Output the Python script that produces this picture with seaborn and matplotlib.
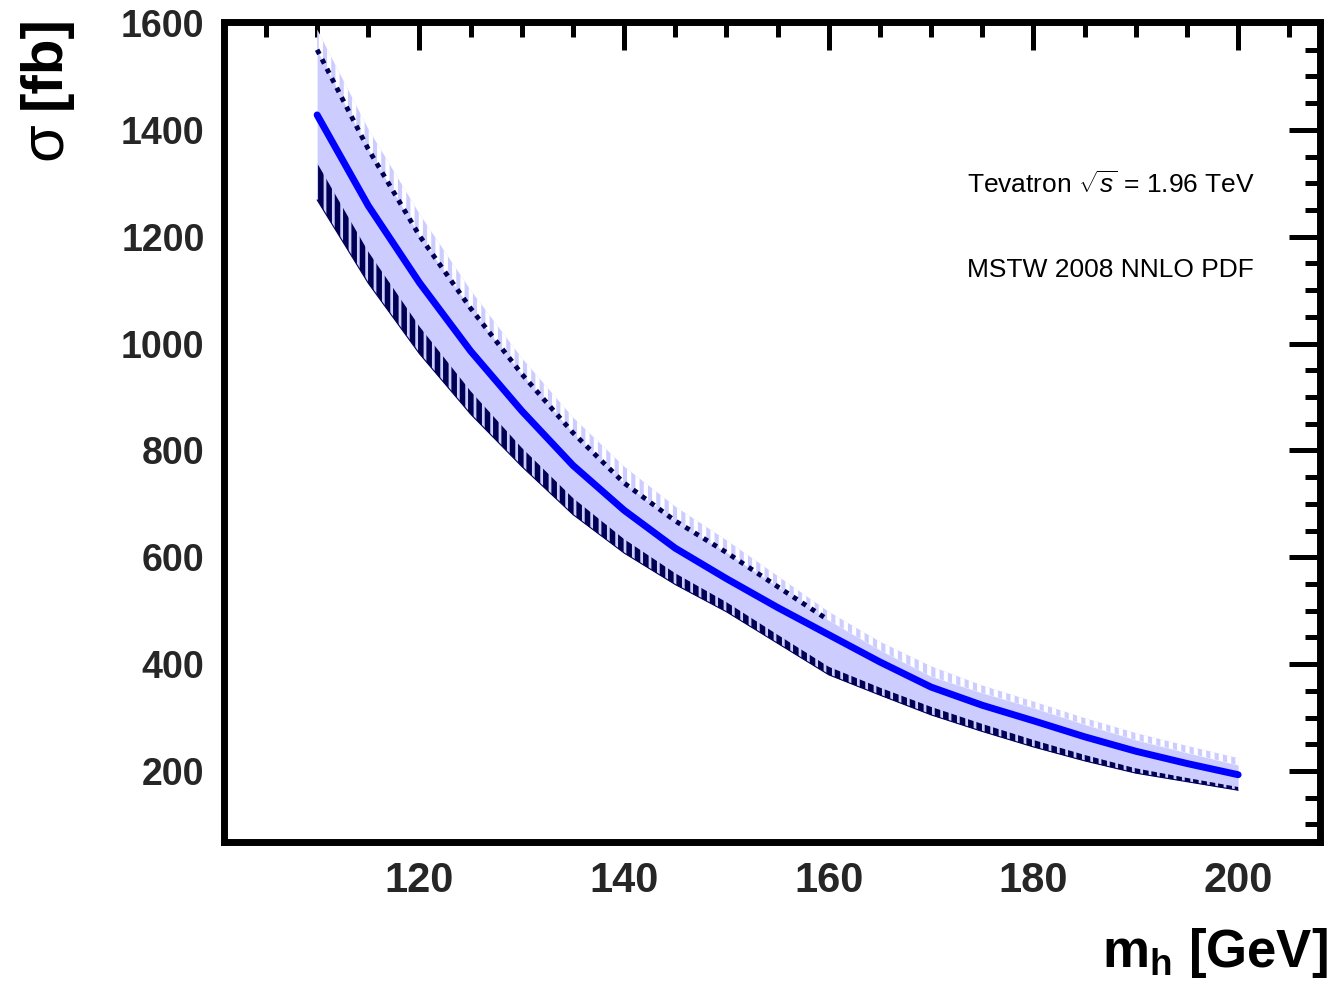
import matplotlib
matplotlib.use("Agg")
import matplotlib.pyplot as plt
import seaborn as sns
import pandas as pd
from matplotlib.ticker import MultipleLocator

# ---- data ----
mh = [110, 115, 120, 125, 130, 135, 140, 145, 150, 155, 160, 165, 170, 175, 180, 185, 190, 195, 200]
sigma_central = [1428, 1258, 1114, 986, 874, 772, 688, 617, 560, 506, 455, 404, 357, 323, 294, 264, 237, 214, 193]
sigma_upper = [1588, 1402, 1243, 1100, 973, 862, 770, 695, 632, 565, 498, 442, 396, 360, 330, 299, 271, 247, 224]
sigma_upper_inner = [1550, 1364, 1202, 1066, 943, 833, 739, 668, 609, 545, 482, 426, 377, 346, 318, 287, 258, 234, 211]
sigma_lower_inner = [1338, 1172, 1032, 911, 805, 711, 634, 570, 516, 455, 395, 356, 320, 288, 258, 230, 205, 187, 170]
sigma_lower = [1269, 1113, 981, 868, 770, 680, 608, 549, 498, 439, 380, 342, 305, 274, 245, 219, 196, 180, 164]
pdf_edge_max_mh = 160

x_ticks = [120, 140, 160, 180, 200]
y_ticks = [200, 400, 600, 800, 1000, 1200, 1400, 1600]
label_line1 = r"Tevatron $\sqrt{s}$ = 1.96 TeV"
label_line2 = "MSTW 2008 NNLO PDF"

df = pd.DataFrame({"mh": mh, "central": sigma_central, "upper": sigma_upper,
                   "upper_inner": sigma_upper_inner,
                   "lower_inner": sigma_lower_inner, "lower": sigma_lower})

sns.set_style("white")
plt.rcParams["font.family"] = ["Liberation Sans", "DejaVu Sans"]
plt.rcParams["mathtext.fontset"] = "custom"
plt.rcParams["mathtext.rm"] = "Liberation Sans"
plt.rcParams["mathtext.it"] = "Liberation Sans:italic"
plt.rcParams["mathtext.bf"] = "Liberation Sans:bold"
plt.rcParams["hatch.linewidth"] = 3.0

LIGHT = "#ccccff"
NAVY = "#000055"
BLUE = "#0000ff"

fig = plt.figure(figsize=(13.37, 9.88), dpi=100)
ax = fig.add_axes([224 / 1337, 1 - 841.5 / 988, (1320 - 224) / 1337, (841.5 - 22.5) / 988])

# light blue band
ax.fill_between(df["mh"], df["lower"], df["upper_inner"], facecolor=LIGHT, lw=0, zorder=1)
# upper strip with white hatch
with plt.rc_context({"hatch.linewidth": 3.0}):
    ax.fill_between(df["mh"], df["upper_inner"], df["upper"], facecolor=LIGHT,
                    edgecolor="white", hatch="||", lw=0, zorder=1)
# lower strip with navy hatch
with plt.rc_context({"hatch.linewidth": 4.0}):
    ax.fill_between(df["mh"], df["lower"], df["lower_inner"], facecolor=LIGHT,
                    edgecolor=NAVY, hatch="||", lw=0, zorder=2)
ax.plot(df["mh"], df["lower"], color=NAVY, lw=0.8, zorder=2)
# upper pdf edge (dotted)
sub = df[df["mh"] <= pdf_edge_max_mh]
ax.plot(sub["mh"], sub["upper_inner"], color=NAVY, lw=3.5, ls=(0, (1, 1.2)), zorder=3)

# central line
sns.lineplot(data=df, x="mh", y="central", color=BLUE, lw=5, ax=ax, zorder=4)

ax.set_xlim(100.9, 208)
ax.set_ylim(68, 1601)
ax.set_xticks(x_ticks)
ax.set_yticks(y_ticks)
ax.xaxis.set_minor_locator(MultipleLocator(5))
ax.yaxis.set_minor_locator(MultipleLocator(50))
ax.set_xlabel("")
ax.set_ylabel("")

for s in ax.spines.values():
    s.set_linewidth(5)
    s.set_color("black")
    s.set_visible(True)

ax.tick_params(axis="both", which="both", direction="in", top=True, right=True,
               width=3.6, color="black")
ax.tick_params(axis="x", which="major", length=20, pad=14)
ax.tick_params(axis="x", which="minor", length=11)
ax.tick_params(axis="y", which="major", length=22, pad=14)
ax.tick_params(axis="y", which="minor", length=11)
for lab in ax.get_xticklabels():
    lab.set_fontsize(30)
    lab.set_fontweight("bold")
for lab in ax.get_yticklabels():
    lab.set_fontsize(27)
    lab.set_fontweight("bold")

ax.text(0.678, 0.792, label_line1, transform=ax.transAxes, fontsize=19,
        ha="left", va="baseline", color="black")
ax.text(0.678, 0.689, label_line2, transform=ax.transAxes, fontsize=19,
        ha="left", va="baseline", color="black")

fig.text(1328 / 1337, 1 - 967 / 988, r"$\mathbf{m}_{\mathbf{h}}$ [GeV]", fontsize=38,
         fontweight="bold", ha="right", va="baseline", color="black")
fig.text(45 / 1337, 1 - 15 / 988, "[fb]", fontsize=42, fontweight="bold",
         rotation=90, ha="center", va="top", color="black")
fig.text(45 / 1337, 1 - 122 / 988, "σ", fontsize=44, fontweight="normal",
         rotation=90, ha="center", va="top", color="black")

fig.savefig("out.png", dpi=100)
